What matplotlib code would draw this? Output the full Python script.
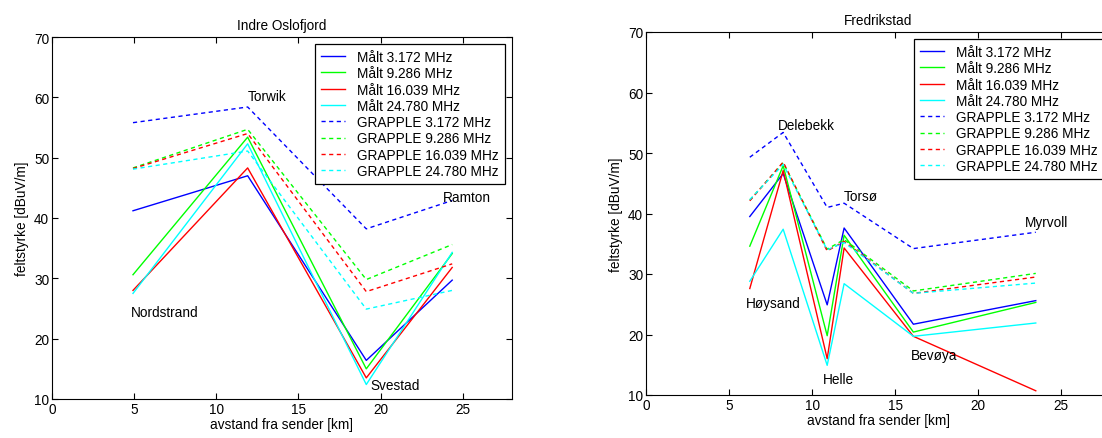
import matplotlib
matplotlib.use("Agg")
import matplotlib.pyplot as plt

plt.rcParams['font.family'] = ['Liberation Sans', 'DejaVu Sans']
plt.rcParams['font.size'] = 9.8

freqs = ["3.172", "9.286", "16.039", "24.780"]
colors = ['#0000ff', '#00ff00', '#ff0000', '#00ffff']

# Indre Oslofjord
oslo_x = [4.93, 11.91, 19.13, 24.36]
oslo_malt = [
    [41.2, 47.0, 16.4, 29.7],
    [30.6, 53.4, 15.0, 34.1],
    [28.0, 48.3, 13.5, 31.8],
    [27.5, 52.3, 12.4, 34.3],
]
oslo_grapple = [
    [55.8, 58.4, 38.2, 42.9],
    [48.3, 54.7, 29.8, 35.6],
    [48.2, 54.0, 27.8, 32.4],
    [48.1, 51.1, 24.9, 28.0],
]
oslo_names = ["Nordstrand", "Torwik", "Svestad", "Ramton"]
oslo_name_pos = [(4.83, 24.5), (11.9, 60.3), (19.4, 12.4), (23.8, 43.5)]

# Fredrikstad
fred_x = [6.25, 8.26, 10.91, 11.93, 16.1, 23.47]
fred_malt = [
    [39.5, 46.6, 24.9, 37.6, 21.7, 25.6],
    [34.6, 47.9, 19.8, 36.4, 20.4, 25.3],
    [27.6, 47.1, 16.0, 34.3, 19.7, 10.7],
    [28.8, 37.4, 14.9, 28.4, 19.7, 21.9],
]
fred_grapple = [
    [49.3, 53.4, 41.0, 41.7, 34.2, 36.9],
    [42.2, 48.4, 34.1, 35.7, 27.2, 30.1],
    [42.1, 48.5, 33.8, 35.4, 26.8, 29.5],
    [42.3, 48.1, 34.0, 35.2, 26.8, 28.5],
]
fred_names = ["Høysand", "Delebekk", "Helle", "Torsø", "Bevøya", "Myrvoll"]
fred_name_pos = [(6.04, 25.2), (7.94, 54.6), (10.66, 12.7), (11.93, 42.9),
                 (15.95, 16.6), (22.84, 38.6)]


def panel(ax, x, malt, grapple, names, pos, title):
    for i in range(4):
        ax.plot(x, malt[i], color=colors[i], lw=1.0, label="Målt " + freqs[i] + " MHz")
    for i in range(4):
        ax.plot(x, grapple[i], color=colors[i], lw=1.0, dashes=(3, 2.5),
                label="GRAPPLE " + freqs[i] + " MHz")
    for name, (px, py) in zip(names, pos):
        ax.text(px, py, name, va='center', ha='left')
    ax.set_xlim(0, 28)
    ax.set_ylim(10, 70)
    ax.set_xticks([0, 5, 10, 15, 20, 25])
    ax.set_yticks([10, 20, 30, 40, 50, 60, 70])
    ax.tick_params(direction='in', top=True, right=True, length=4, pad=2)
    ax.set_title(title, fontsize=9.8, pad=6)
    ax.set_xlabel("avstand fra sender [km]", labelpad=1)
    ax.set_ylabel("feltstyrke [dBuV/m]", labelpad=4)
    leg = ax.legend(loc='upper right', fancybox=False, framealpha=1,
                    edgecolor='black', borderaxespad=0.5,
                    labelspacing=0.17, handlelength=1.8, borderpad=0.45,
                    handletextpad=0.9)
    leg.get_frame().set_linewidth(0.9)
    for s in ax.spines.values():
        s.set_linewidth(0.8)


fig = plt.figure(figsize=(11.02, 4.39), dpi=100)
W, H = 1102, 439
ax1 = fig.add_axes([52 / W, 1 - 400 / H, 460 / W, 362 / H])
ax2 = fig.add_axes([646 / W, 1 - 396 / H, 465 / W, 363 / H])

panel(ax1, oslo_x, oslo_malt, oslo_grapple, oslo_names, oslo_name_pos, "Indre Oslofjord")
panel(ax2, fred_x, fred_malt, fred_grapple, fred_names, fred_name_pos, "Fredrikstad")

fig.savefig("out.png", dpi=100)
